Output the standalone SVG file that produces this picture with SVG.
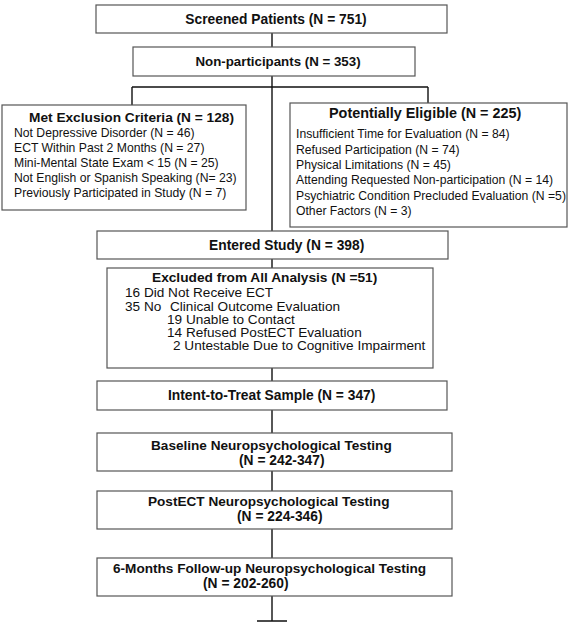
<svg xmlns="http://www.w3.org/2000/svg" width="586" height="622" viewBox="0 0 586 622">
<style>
.box{fill:#fff;stroke:#555;stroke-width:1.2}
.t{font-family:"Liberation Sans",Arial,Helvetica,sans-serif;fill:#111}
.b{font-weight:bold;font-size:13.8px}
.r{font-size:12.2px}
.m{font-size:13.6px}
.c{text-anchor:middle}
.ln{stroke:#111;stroke-width:1.4;fill:none}
</style>
<rect width="586" height="622" fill="#fff"/>
<g id="connectors">
<path class="ln" d="M272,33V47M272,76V231M132,87H428M132,87V105M428,87V103M272,259V268M272,368V381M272,410V433M272,471V491M272,529V558M272,596V621M257,621H287"/>
</g>
<g id="screened">
<rect class="box" x="96" y="5" width="351" height="28"/>
<text class="t b c" x="276" y="24">Screened Patients (N = 751)</text>
</g>
<g id="nonparticipants">
<rect class="box" x="133" y="47" width="282" height="29"/>
<text class="t b c" x="278" y="66" style="font-size:13.3px">Non-participants (N = 353)</text>
</g>
<g id="exclusion">
<rect class="box" x="2" y="105" width="244" height="105"/>
<text class="t b" x="29" y="122" style="font-size:13.7px">Met Exclusion Criteria (N = 128)</text>
<text class="t r" x="14" y="137">Not Depressive Disorder (N = 46)</text>
<text class="t r" x="14" y="152">ECT Within Past 2 Months (N = 27)</text>
<text class="t r" x="14" y="167">Mini-Mental State Exam &lt; 15 (N = 25)</text>
<text class="t r" x="14" y="182">Not English or Spanish Speaking (N= 23)</text>
<text class="t r" x="14" y="197">Previously Participated in Study (N = 7)</text>
</g>
<g id="eligible">
<rect class="box" x="290" y="103" width="277" height="124"/>
<text class="t b" x="329" y="118" style="font-size:14.4px">Potentially Eligible (N = 225)</text>
<text class="t r" x="296" y="138">Insufficient Time for Evaluation (N = 84)</text>
<text class="t r" x="296" y="153.5">Refused Participation (N = 74)</text>
<text class="t r" x="296" y="169">Physical Limitations (N = 45)</text>
<text class="t r" x="296" y="184">Attending Requested Non-participation (N = 14)</text>
<text class="t r" x="296" y="199.5">Psychiatric Condition Precluded Evaluation (N =5)</text>
<text class="t r" x="296" y="215">Other Factors (N = 3)</text>
</g>
<g id="entered">
<rect class="box" x="97" y="231" width="351" height="28"/>
<text class="t b" x="209" y="250">Entered Study (N = 398)</text>
</g>
<g id="excluded">
<rect class="box" x="107" y="268" width="326" height="100"/>
<text class="t b" x="152" y="282" style="font-size:13.7px">Excluded from All Analysis (N =51)</text>
<text class="t m" x="125" y="297">16 Did Not Receive ECT</text>
<text class="t m" x="125" y="311">35 No<tspan x="170">Clinical Outcome Evaluation</tspan></text>
<text class="t m" x="167" y="324">19 Unable to Contact</text>
<text class="t m" x="167" y="337">14 Refused PostECT Evaluation</text>
<text class="t m" x="173" y="350">2 Untestable Due to Cognitive Impairment</text>
</g>
<g id="itt">
<rect class="box" x="97" y="381" width="350" height="29"/>
<text class="t b" x="168" y="400">Intent-to-Treat Sample (N = 347)</text>
</g>
<g id="baseline">
<rect class="box" x="97" y="433" width="355" height="38"/>
<text class="t b" x="151" y="450" style="font-size:13.6px">Baseline Neuropsychological Testing</text>
<text class="t b" x="239" y="465">(N = 242-347)</text>
</g>
<g id="postect">
<rect class="box" x="97" y="491" width="355" height="38"/>
<text class="t b" x="148" y="506" style="font-size:13.6px">PostECT Neuropsychological Testing</text>
<text class="t b" x="237" y="521">(N = 224-346)</text>
</g>
<g id="followup">
<rect class="box" x="97" y="558" width="355" height="38"/>
<text class="t b" x="113" y="573" style="font-size:13.6px">6-Months Follow-up Neuropsychological Testing</text>
<text class="t b" x="203" y="588">(N = 202-260)</text>
</g>
</svg>
